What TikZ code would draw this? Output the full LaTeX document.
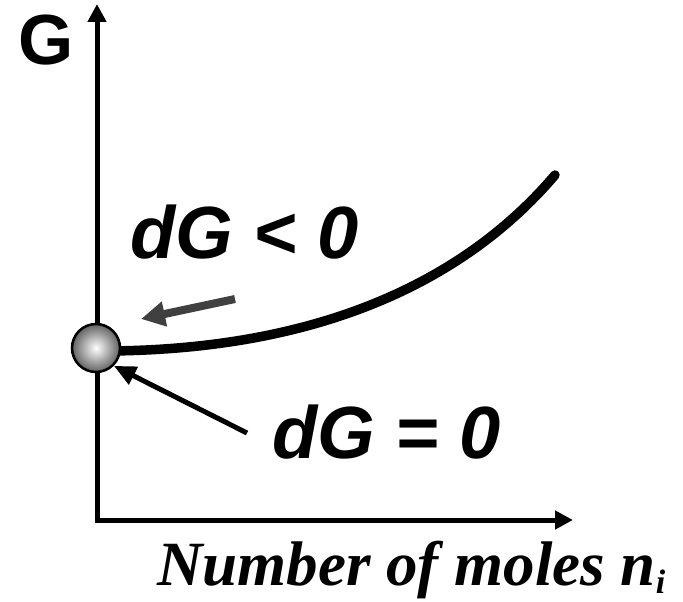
\documentclass[tikz,border=0pt]{standalone}
\usepackage{fontspec}
\setmainfont{Liberation Serif}
\setsansfont{Liberation Sans}
\usetikzlibrary{arrows.meta, positioning}
\definecolor{ArrowGray}{RGB}{64,64,64}

\begin{document}
\begin{tikzpicture}[x=1pt, y=-1pt,
	eje/.style={line width=5pt, line join=miter, {Triangle[length=18pt, width=18pt]}-{Triangle[length=18pt, width=18pt]}},
	etiqueta/.style={font=\fontsize{74}{80}\selectfont\sffamily\bfseries\itshape, inner sep=0pt, anchor=base west},
	bola/.style={circle, draw=black, line width=2.5pt, inner color=white, outer color=black!62, minimum size=48pt, inner sep=0pt}]
	\useasboundingbox (0,0) rectangle (683,602);
	% ejes
	\coordinate (ytop) at (97,4);
	\coordinate (o) at (97,520);
	\coordinate (xend) at (573,520);
	\draw[eje] (ytop) -- (o) -- (xend);
	\node[font=\fontsize{71}{74}\selectfont\sffamily\bfseries, inner sep=0pt, anchor=base west] (ejeG) at (18,65) {G};
	% curva
	\coordinate (cini) at (110,351);
	\coordinate (cfin) at (555,175);
	\draw[line width=9.5pt, line cap=round] (cini) .. controls (330,349) and (470,275) .. (cfin);
	\node[bola] (eq) at (96,348) {};
	% flechas
	\coordinate (gcola) at (235,299);
	\coordinate (gpunta) at (141,319);
	\draw[ArrowGray, line width=8pt, -{Triangle[length=24pt, width=24pt]}] (gcola) -- (gpunta);
	\node[etiqueta] (menor) at (130,258) {dG < 0};
	\node[etiqueta] (igual) at (272,458) {dG = 0};
	\coordinate (ncola) at (247,433);
	\draw[line width=5pt, -{Triangle[length=22pt, width=19pt]}] (ncola) -- (eq.south east);
	% etiqueta del eje x
	\node[font=\fontsize{63}{66}\selectfont\rmfamily\bfseries\itshape, inner sep=0pt, anchor=base west] (ejeN) at (157,585)
		{Number of moles n\raisebox{-8pt}{\fontsize{34}{34}\selectfont i}};
\end{tikzpicture}
\end{document}
